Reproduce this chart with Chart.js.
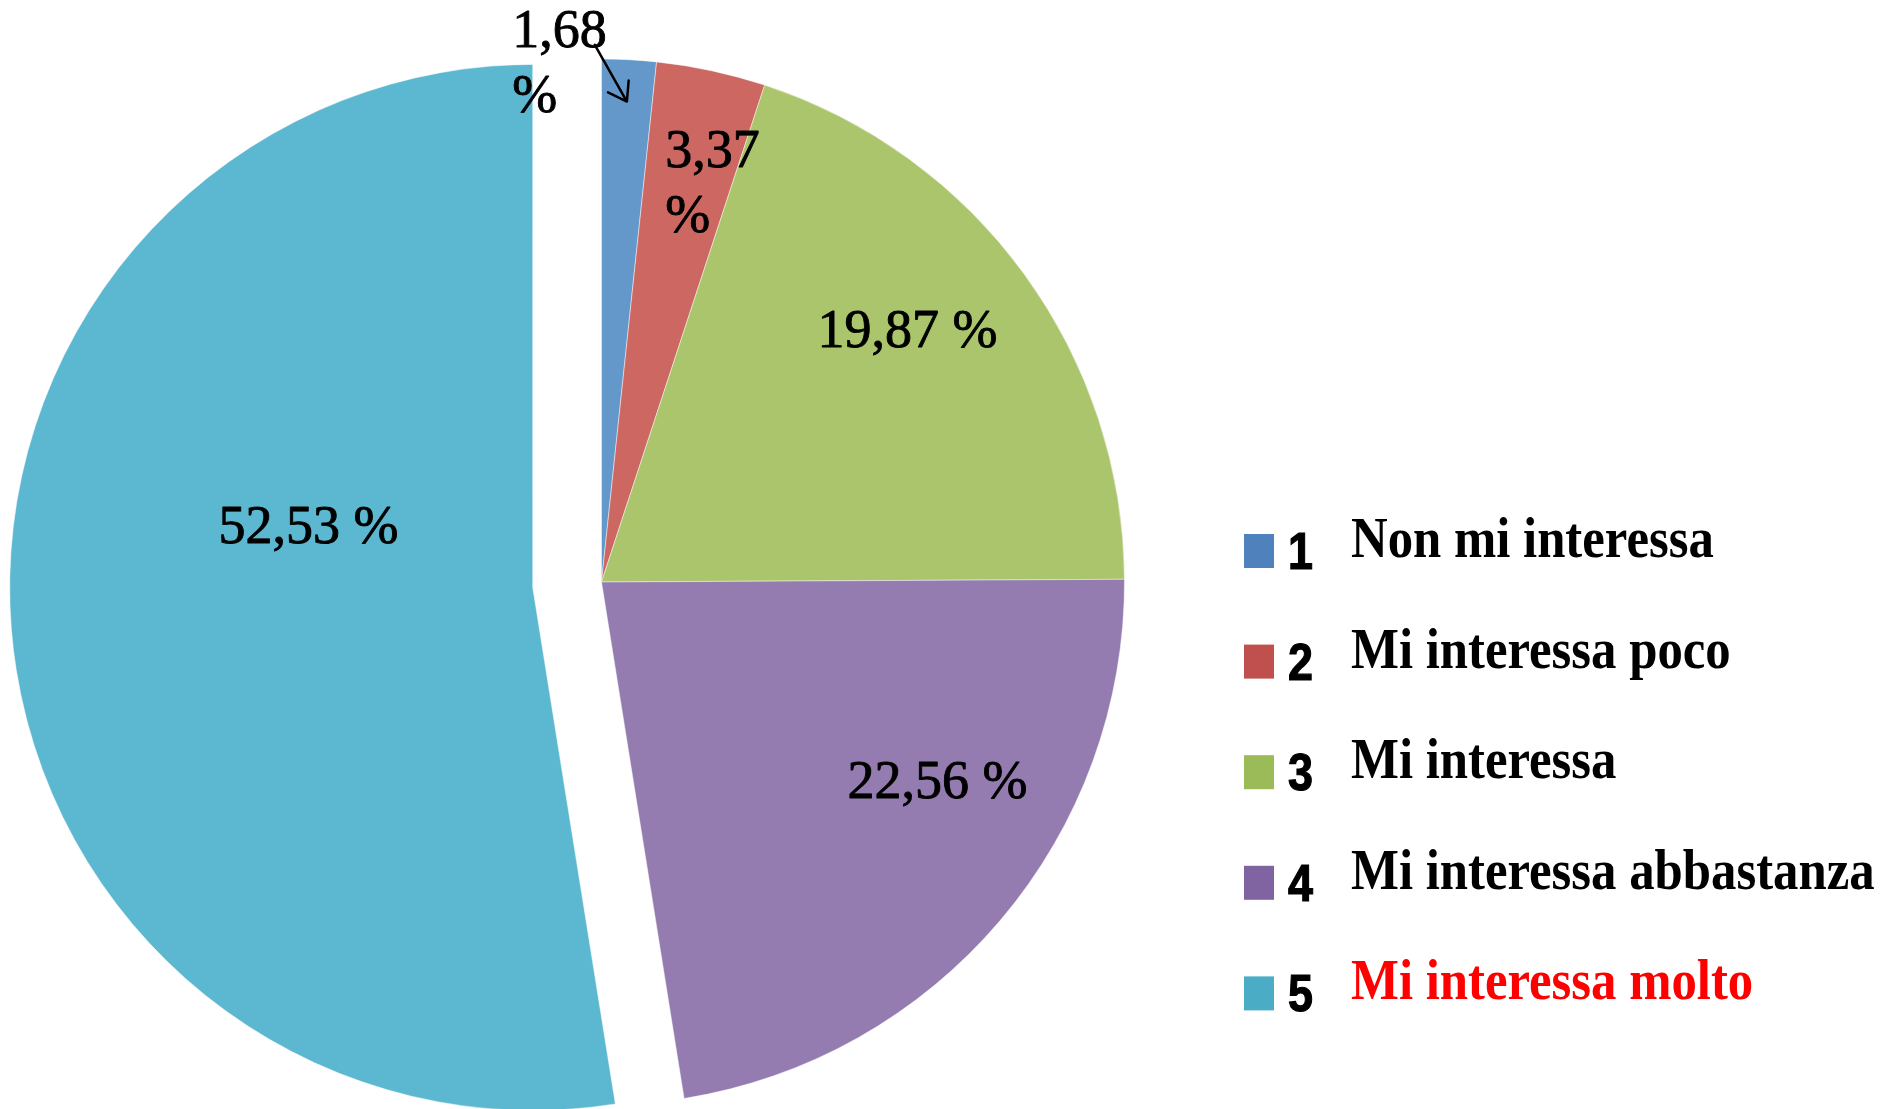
<!DOCTYPE html>
<html><head><meta charset="utf-8">
<script src="https://cdn.jsdelivr.net/npm/chart.js@4.4.1/dist/chart.umd.min.js"></script>
<style>html,body{margin:0;padding:0;background:#fff;overflow:hidden}canvas{display:block}</style>
</head><body>
<canvas id="c" width="1888" height="1109"></canvas>
<script>
// ---- data ----
const categories = ['Non mi interessa', 'Mi interessa poco', 'Mi interessa', 'Mi interessa abbastanza', 'Mi interessa molto'];
const scoreLabels = ['1', '2', '3', '4', '5'];
const values = [1.68, 3.37, 19.87, 22.56, 52.53];

// ---- styles ----
const sliceColors = ['#6498CB', '#CD6761', '#ABC56D', '#947CB0', '#5CB8D1'];
const legendColors = ['#4F81BD', '#C0504D', '#9BBB59', '#8064A2', '#4BACC6'];
const legendTextColors = ['#000000', '#000000', '#000000', '#000000', '#FF0000'];
const explode = [0, 0, 0, 0, 69];
const labelStyles = [
  {align: 'left', dx: -103, dy: -274, wrap: true, arrow: true},
  {align: 'left', dx: 9, dy: -159, wrap: true},
  {align: 'center', dx: 94.5, dy: -81},
  {align: 'center', dx: 136.6, dy: 47},
  {align: 'center', dx: 36.5, dy: -65}
];
const LABEL_FONT = '54px "Liberation Serif", serif';
const LINE_GAP = 65;

function fmt(v) { return v.toFixed(2).replace('.', ','); }

const explodePlugin = {
  id: 'explodeSlices',
  beforeDatasetsDraw(chart) {
    const meta = chart.getDatasetMeta(0);
    meta.data.forEach((el, i) => {
      if (!explode[i] || el._exploded) return;
      const orig = el.draw;
      el.draw = function (ctx) {
        const mid = (this.startAngle + this.endAngle) / 2;
        ctx.save();
        ctx.translate(Math.cos(mid) * explode[i], Math.sin(mid) * explode[i]);
        orig.call(this, ctx);
        ctx.restore();
      };
      el._exploded = true;
    });
  }
};

function strongText(ctx, t, x, y, w) {
  ctx.fillText(t, x, y);
  ctx.lineWidth = w;
  ctx.strokeText(t, x, y);
}

const labelPlugin = {
  id: 'sliceLabels',
  afterDatasetsDraw(chart) {
    const ctx = chart.ctx;
    const meta = chart.getDatasetMeta(0);
    ctx.save();
    ctx.font = LABEL_FONT;
    ctx.fillStyle = '#000';
    ctx.strokeStyle = '#000';
    ctx.lineJoin = 'round';
    ctx.textBaseline = 'alphabetic';
    meta.data.forEach((el, i) => {
      const st = labelStyles[i];
      const mid = (el.startAngle + el.endAngle) / 2;
      const r = el.outerRadius / 2 + explode[i];
      const cx = el.x + Math.cos(mid) * r;
      const cy = el.y + Math.sin(mid) * r;
      const ax = cx + st.dx, ay = cy + st.dy;
      ctx.textAlign = st.align;
      const txt = fmt(values[i]);
      if (st.wrap) {
        strongText(ctx, txt, ax, ay, 0.9);
        strongText(ctx, '%', ax, ay + LINE_GAP, 0.9);
      } else {
        strongText(ctx, txt + ' %', ax, ay, 0.9);
      }
      if (st.arrow) {
        const w = ctx.measureText(txt).width;
        const sx = ax + w - 12, sy = ay - 2;
        const tr = el.outerRadius * 0.92;
        const tx = el.x + Math.cos(mid) * tr, ty = el.y + Math.sin(mid) * tr;
        ctx.lineWidth = 2.5;
        ctx.lineCap = 'round';
        ctx.beginPath();
        ctx.moveTo(sx, sy); ctx.lineTo(tx, ty);
        const ang = Math.atan2(ty - sy, tx - sx);
        const len = 21, spread = 0.6;
        ctx.moveTo(tx - len * Math.cos(ang - spread), ty - len * Math.sin(ang - spread));
        ctx.lineTo(tx, ty);
        ctx.lineTo(tx - len * Math.cos(ang + spread), ty - len * Math.sin(ang + spread));
        ctx.stroke();
      }
    });
    ctx.restore();
  }
};

const legendPlugin = {
  id: 'sideLegend',
  afterDraw(chart) {
    const ctx = chart.ctx;
    const x0 = 1244, y0 = 534, pitch = 110.6;
    ctx.save();
    categories.forEach((name, i) => {
      const top = y0 + i * pitch;
      ctx.fillStyle = legendColors[i];
      ctx.fillRect(x0, top, 30, 34);
      // number
      ctx.save();
      ctx.font = 'bold 51px "Liberation Sans", sans-serif';
      ctx.fillStyle = '#000';
      ctx.strokeStyle = '#000';
      ctx.textAlign = 'left';
      ctx.textBaseline = 'alphabetic';
      ctx.translate(1288, top + 35);
      ctx.scale(0.88, 1);
      strongText(ctx, scoreLabels[i], 0, 0, 1.2);
      ctx.restore();
      // text
      ctx.save();
      ctx.font = 'bold 54px "Liberation Serif", serif';
      ctx.fillStyle = legendTextColors[i];
      ctx.textAlign = 'left';
      ctx.textBaseline = 'alphabetic';
      ctx.translate(1351, top + 23);
      ctx.scale(0.94, 1.04);
      ctx.fillText(name, 0, 0);
      ctx.restore();
    });
    ctx.restore();
  }
};

function build() {
  new Chart(document.getElementById('c').getContext('2d'), {
    type: 'pie',
    data: {
      labels: categories,
      datasets: [{
        data: values,
        backgroundColor: sliceColors,
        borderColor: 'rgba(255,255,255,0.45)',
        borderWidth: 1,
        hoverOffset: 0,
        radius: 523
      }]
    },
    options: {
      responsive: false,
      animation: false,
      events: [],
      radius: 523,
      layout: {padding: {left: 0, right: 685, top: 55, bottom: 0}},
      plugins: {legend: {display: false}, tooltip: {enabled: false}, title: {display: false}}
    },
    plugins: [explodePlugin, labelPlugin, legendPlugin]
  });
}

const fontLoads = [
  document.fonts.load('54px "Liberation Serif"'),
  document.fonts.load('bold 54px "Liberation Serif"'),
  document.fonts.load('bold 51px "Liberation Sans"')
];
Promise.race([Promise.all(fontLoads), new Promise(r => setTimeout(r, 1500))]).then(build, build);
</script>
</body></html>
